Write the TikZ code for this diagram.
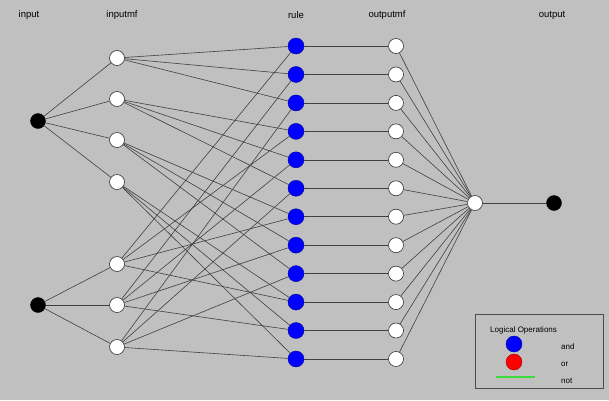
\documentclass[tikz,border=0pt]{standalone}
\usepackage{fontspec}
\setmainfont{Liberation Sans}
\definecolor{bggray}{RGB}{192,192,192}
\definecolor{notgreen}{RGB}{60,220,60}
\begin{document}
\begin{tikzpicture}[x=1pt,y=-1pt,
  every node/.style={inner sep=0pt},
  conn/.style={draw=black!75, line width=0.6pt},
  inp/.style={circle, fill=black, draw=black, minimum size=15pt},
  mfnode/.style={circle, fill=white, draw=black!80, line width=0.6pt, minimum size=15pt},
  rulenode/.style={circle, fill=blue, draw=blue!60!black, line width=0.4pt, minimum size=16pt},
  hdr/.style={font=\fontsize{9.5}{10}\selectfont, anchor=center},
  leg/.style={font=\fontsize{8}{9}\selectfont, anchor=west}
]
\fill[bggray] (0,0) rectangle (609,400);
\useasboundingbox (0,0) rectangle (609,400);

% headers
\node[hdr] (h1) at (29,15) {input};
\node[hdr] (h2) at (122,15) {inputmf};
\node[hdr] (h3) at (296,15) {rule};
\node[hdr] (h4) at (387,15) {outputmf};
\node[hdr] (h5) at (552,15) {output};

% inputs
\node[inp] (in1) at (38,121) {};
\node[inp] (in2) at (38,305) {};

% input mfs
\node[mfnode] (a1) at (117,58) {};
\node[mfnode] (a2) at (117,99) {};
\node[mfnode] (a3) at (117,140) {};
\node[mfnode] (a4) at (117,182) {};
\node[mfnode] (b1) at (117,264) {};
\node[mfnode] (b2) at (117,305) {};
\node[mfnode] (b3) at (117,347) {};

% rules and output mfs
\foreach \k in {1,...,12}{
  \pgfmathsetmacro{\yy}{46+28.45*(\k-1)}
  \node[rulenode] (r\k) at (296,\yy) {};
  \node[mfnode] (o\k) at (396,\yy) {};
}

% aggregator and output
\node[mfnode] (agg) at (475,203) {};
\node[inp] (out) at (554,203) {};

% connectors
\foreach \m in {a1,a2,a3,a4}{ \draw[conn] (in1) -- (\m); }
\foreach \m in {b1,b2,b3}{ \draw[conn] (in2) -- (\m); }
\foreach \k in {1,...,12}{
  \pgfmathtruncatemacro{\ia}{int((\k-1)/3)+1}
  \pgfmathtruncatemacro{\ib}{mod(\k-1,3)+1}
  \draw[conn] (a\ia) -- (r\k);
  \draw[conn] (b\ib) -- (r\k);
  \draw[conn] (r\k) -- (o\k);
  \draw[conn] (o\k) -- (agg);
}
\draw[conn] (agg) -- (out);

% legend
\node[draw=black!70, line width=0.6pt, minimum width=128pt, minimum height=74pt, anchor=north west] (legbox) at (475,314) {};
\node[leg] (lt) at (490,330) {Logical Operations};
\node[circle, fill=blue, draw=blue!60!black, line width=0.4pt, minimum size=16pt] (lb) at (514,344) {};
\node[circle, fill=red, draw=red!60!black, line width=0.4pt, minimum size=16pt] (lr) at (514,362) {};
\coordinate (g1) at (496,377);
\coordinate (g2) at (535,377);
\draw[draw=notgreen, line width=1.5pt] (g1) -- (g2);
\node[leg] (l1) at (561,347) {and};
\node[leg] (l2) at (561,364) {or};
\node[leg] (l3) at (561,381) {not};
\end{tikzpicture}
\end{document}
